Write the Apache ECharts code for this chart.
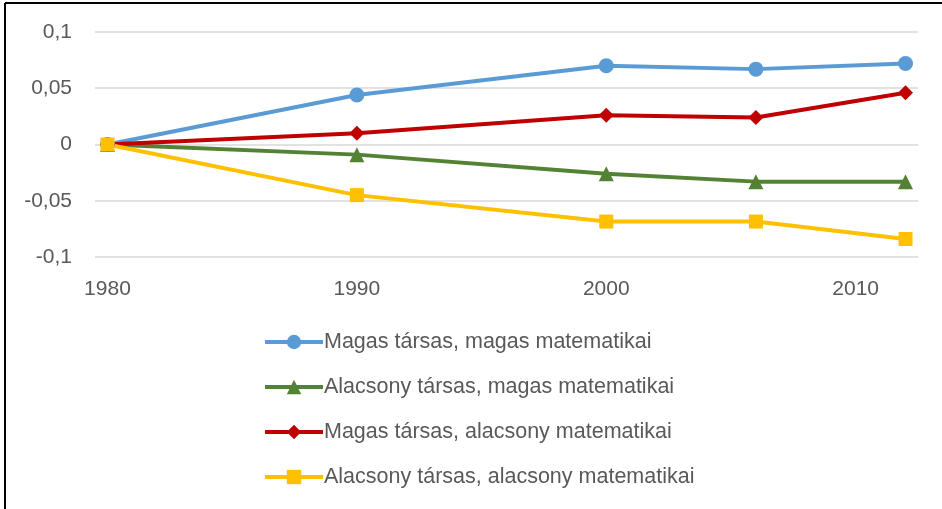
<!DOCTYPE html>
<html>
<head>
<meta charset="utf-8">
<script src="https://cdn.jsdelivr.net/npm/echarts@6/dist/echarts.min.js"></script>
<style>
html,body{margin:0;padding:0;background:#fff;}
#c{width:942px;height:509px;}
</style>
</head>
<body>
<div id="c"></div>
<script>
var years = [1980, 1990, 2000, 2006, 2012];
var xTickLabels = [1980, 1990, 2000, 2010];
var seriesNames = [
  'Magas társas, magas matematikai',
  'Alacsony társas, magas matematikai',
  'Magas társas, alacsony matematikai',
  'Alacsony társas, alacsony matematikai'
];
var magasMagas = [0, 0.044, 0.070, 0.067, 0.072];
var alacsonyMagas = [0, -0.009, -0.026, -0.033, -0.033];
var magasAlacsony = [0, 0.010, 0.026, 0.024, 0.046];
var alacsonyAlacsony = [0, -0.045, -0.0685, -0.0685, -0.084];

var colors = ['#5B9BD5', '#548235', '#C00000', '#FFC000'];
var symbols = ['circle', 'triangle', 'diamond', 'rect'];
var values = [magasMagas, alacsonyMagas, magasAlacsony, alacsonyAlacsony];

var FONT = 'Liberation Sans';
var chart = echarts.init(document.getElementById('c'), null, {renderer: 'canvas'});

var series = seriesNames.map(function (name, i) {
  return {
    name: name,
    type: 'line',
    data: years.map(function (y, j) { return [y, values[i][j]]; }),
    symbol: symbols[i],
    symbolSize: symbols[i] === 'rect' ? 14 : 15,
    showAllSymbol: true,
    lineStyle: {color: colors[i], width: 4},
    itemStyle: {color: colors[i]},
    emphasis: {disabled: true},
    animation: false
  };
});

chart.setOption({
  animation: false,
  backgroundColor: '#fff',
  color: colors,
  grid: {left: 95, right: 24, top: 32, bottom: 252, containLabel: false},
  xAxis: {
    type: 'value',
    min: 1979.5,
    max: 2012.5,
    splitLine: {show: false},
    axisLine: {show: false},
    axisTick: {show: false},
    axisLabel: {
      customValues: xTickLabels,
      color: '#595959',
      fontFamily: FONT,
      fontSize: 21,
      margin: 22,
      formatter: function (v) { return String(v); }
    }
  },
  yAxis: {
    type: 'value',
    min: -0.1,
    max: 0.1,
    interval: 0.05,
    axisLine: {show: false},
    axisTick: {show: false},
    splitLine: {lineStyle: {color: '#D9D9D9', width: 1.5}},
    axisLabel: {
      color: '#595959',
      fontFamily: FONT,
      fontSize: 21,
      margin: 23,
      formatter: function (v) {
        var s = (Math.round(v * 100) / 100).toString();
        return s.replace('.', ',');
      }
    }
  },
  legend: {
    orient: 'vertical',
    left: 258,
    top: 326,
    itemWidth: 58,
    itemHeight: 18,
    itemGap: 23,
    selectedMode: false,
    lineStyle: {width: 4},
    textStyle: {color: '#595959', fontFamily: FONT, fontSize: 21.5, lineHeight: 21, padding: [0, 0, 0, -4]},
    data: seriesNames
  },
  graphic: [
    {type: 'line', shape: {x1: 5, y1: 3, x2: 942, y2: 3}, style: {stroke: '#000', lineWidth: 2}},
    {type: 'line', shape: {x1: 5, y1: 3, x2: 5, y2: 509}, style: {stroke: '#000', lineWidth: 2}}
  ],
  series: series
});
</script>
</body>
</html>
